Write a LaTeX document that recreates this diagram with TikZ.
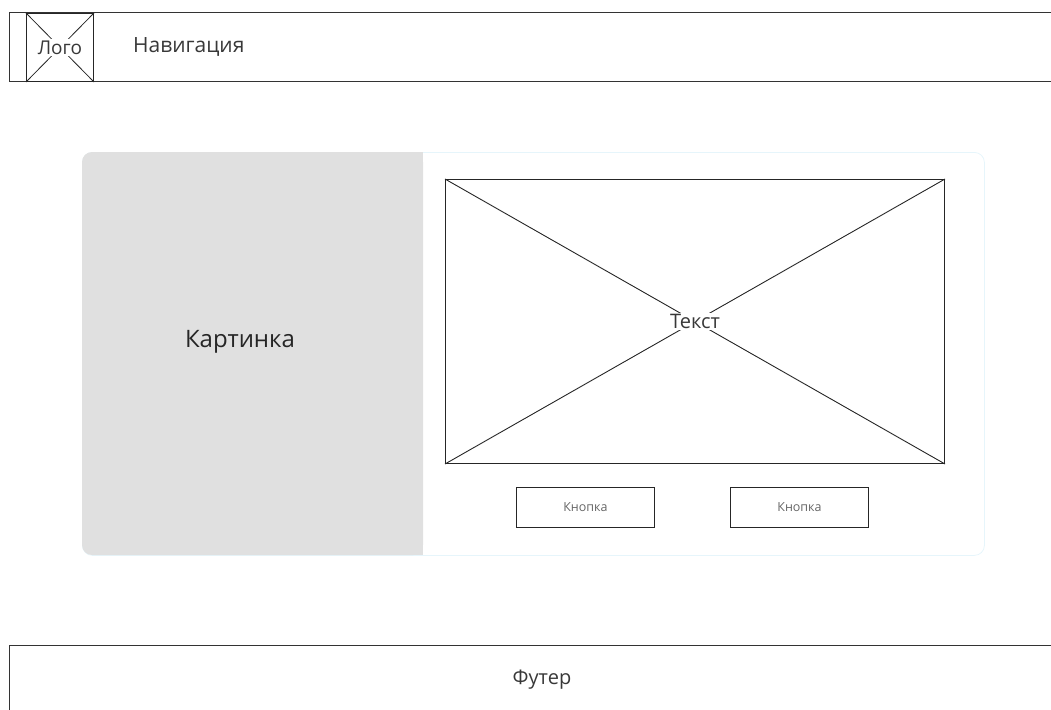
\documentclass[tikz,border=0pt]{standalone}
\usepackage{fontspec}
\setmainfont{Open Sans}
\begin{document}
\begin{tikzpicture}[x=1pt,y=-1pt,
  frame/.style={draw=black!80,line width=1pt},
  label/.style={text=black!78,inner sep=1pt},
  xline/.style={draw=black!85,line width=0.9pt},
  btn/.style={draw=black!85,line width=1pt,minimum width=138pt,minimum height=40pt,
    anchor=north west,inner sep=0pt,font=\fontsize{12.5}{14}\selectfont,text=black!60}]
\useasboundingbox (0,0) rectangle (1051,709);
% header bar (open on the right)
\draw[frame] (1060,13) -- (9,13) -- (9,81) -- (1060,81);
% logo placeholder
\node[draw=black!85,line width=1pt,minimum width=67pt,minimum height=68pt,anchor=north west,inner sep=0pt] (logo) at (26,13) {};
\draw[xline,line width=0.8pt] (logo.north west) -- (logo.south east);
\draw[xline,line width=0.8pt] (logo.north east) -- (logo.south west);
\node[label,fill=white,inner sep=2pt,font=\fontsize{19}{22}\selectfont] (logotext) at (logo.center) {Лого};
\node[label,anchor=west,font=\fontsize{21}{25}\selectfont] (nav) at (132,47) {Навигация};
% card
\node[draw=black!10!cyan!10!white,line width=0.8pt,rounded corners=10pt,minimum width=902pt,minimum height=403pt,anchor=north west,inner sep=0pt] (card) at (82,152) {};
\fill[black!12,rounded corners=10pt] (423,152) -- (82,152) -- (82,555) -- (423,555) -- cycle;
\fill[black!12] (410,152) rectangle (423,555);
\node[label,font=\fontsize{24}{28}\selectfont,text=black!85] (pic) at (240,342) {Картинка};
% text placeholder
\node[draw=black!85,line width=1pt,minimum width=499pt,minimum height=284pt,anchor=north west,inner sep=0pt] (tbox) at (445,179) {};
\draw[xline] (tbox.north west) -- (tbox.south east);
\draw[xline] (tbox.north east) -- (tbox.south west);
\node[label,fill=white,font=\fontsize{20}{24}\selectfont] (ttext) at (tbox.center) {Текст};
% buttons
\node[btn] (b1) at (516,487) {Кнопка};
\node[btn] (b2) at (730,487) {Кнопка};
% footer (open on the right and bottom)
\draw[frame] (1060,645) -- (9,645) -- (9,720);
\node[label,font=\fontsize{20}{24}\selectfont] (foot) at (542,680) {Футер};
\end{tikzpicture}
\end{document}
